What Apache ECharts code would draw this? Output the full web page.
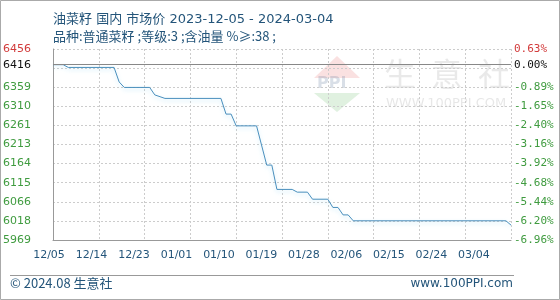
<!DOCTYPE html>
<html>
<head>
<meta charset="utf-8">
<script src="https://cdn.jsdelivr.net/npm/echarts@6/dist/echarts.min.js"></script>
<style>html,body{margin:0;padding:0;background:#fff;}#c{width:560px;height:300px;}</style>
</head>
<body>
<div id="c"></div>
<script>
// ---- data ----
const titleText = '油菜籽 国内 市场价 2023-12-05 - 2024-03-04';
const subText = '品种:普通菜籽 ;等级:3 ;含油量 %≥:38 ;';
const dates = ['2023-12-05','2023-12-07','2023-12-08','2023-12-17','2023-12-18','2023-12-19','2023-12-24','2023-12-25','2023-12-27','2024-01-07','2024-01-08','2024-01-09','2024-01-10','2024-01-14','2024-01-16','2024-01-17','2024-01-18','2024-01-21','2024-01-22','2024-01-24','2024-01-25','2024-01-28','2024-01-29','2024-01-30','2024-01-31','2024-02-01','2024-02-02','2024-03-03','2024-03-04'];
const prices = [6416,6416,6409,6409,6372,6358,6358,6339,6330,6330,6290,6290,6260,6260,6160,6160,6098,6098,6091,6091,6073,6073,6052,6052,6033,6033,6018,6018,6007];
const basePrice = 6416;
const priceMin = 5969, priceMax = 6456;
const leftTickLabels = ['5969','6018','6066','6115','6164','6213','6261','6310','6359','','6456'];
const rightTickLabels = ['-6.96%','-6.20%','-5.44%','-4.68%','-3.92%','-3.16%','-2.40%','-1.65%','-0.89%','','0.63%'];
const baseLabelLeft = '6416', baseLabelRight = '0.00%';
const xTickLabels = ['12/05','12/14','12/23','01/01','01/10','01/19','01/28','02/06','02/15','02/24','03/04'];
const totalDays = 90;        // span of the plotted data
const labelAxisDays = 97;    // the date labels are drawn on a slightly compressed scale in the reference

const t0 = Date.parse(dates[0]);
const seriesData = dates.map((d, i) => [(Date.parse(d) - t0) / 86400000, prices[i]]);

const green = '#3f9b3f', red = '#d23b3b', blue = '#24557a';
const chart = echarts.init(document.getElementById('c'), null, {renderer: 'canvas'});
chart.setOption({
  animation: false,
  title: [
    {text: titleText, left: 48, top: 8, textStyle: {fontSize: 13, fontWeight: 'normal', color: blue, fontFamily: '"DejaVu Sans", "Noto Sans CJK SC"'}},
    {text: subText, left: 48, top: 25, textStyle: {fontSize: 13, fontWeight: 'normal', color: blue, fontFamily: 'Noto Sans CJK SC'}}
  ],
  grid: [{left: 50, top: 49, width: 461, height: 191}],
  xAxis: [
    {type: 'value', gridIndex: 0, position: 'bottom', min: 0, max: totalDays, interval: 9,
     axisLabel: {show: false}, axisTick: {show: false},
     axisLine: {show: true, onZero: false, lineStyle: {color: '#999', width: 1}},
     splitLine: {show: true, lineStyle: {color: '#ccc', type: [2, 2]}}},
    {type: 'value', gridIndex: 0, position: 'bottom', min: 0, max: labelAxisDays, interval: 9,
     axisLine: {show: false, onZero: false}, axisTick: {show: false}, splitLine: {show: false},
     axisLabel: {margin: 10, fontSize: 11, color: blue, fontFamily: 'DejaVu Sans', align: 'center',
       padding: [0, 8, 0, 0], showMaxLabel: false,
       formatter: v => (v % 9 === 0 && v <= totalDays) ? xTickLabels[v / 9] : ''}}
  ],
  yAxis: [
    {type: 'value', gridIndex: 0, min: 0, max: 10, interval: 1, position: 'left',
     axisLine: {show: true, lineStyle: {color: '#999'}}, axisTick: {show: false},
     splitLine: {show: true, lineStyle: {color: '#ccc', type: [2, 2]}},
     axisLabel: {margin: 22, fontSize: 11, fontFamily: 'DejaVu Sans',
       formatter: v => leftTickLabels[Math.round(v)],
       color: v => Math.round(v) === 10 ? red : green}},
    {type: 'value', gridIndex: 0, min: 0, max: 10, interval: 1, position: 'right',
     axisLine: {show: false}, axisTick: {show: false}, splitLine: {show: false},
     axisLabel: {margin: 3, fontSize: 11, fontFamily: 'DejaVu Sans Mono',
       formatter: v => rightTickLabels[Math.round(v)],
       color: v => Math.round(v) === 10 ? red : green}},
    {type: 'value', gridIndex: 0, min: priceMin, max: priceMax, show: false}
  ],
  graphic: [
    {type: 'rect', shape: {x: 0.5, y: 0.5, width: 559, height: 299}, style: {fill: 'none', stroke: '#aaa', lineWidth: 1}, z: 100},
    {type: 'line', shape: {x1: 10, y1: 275.5, x2: 514, y2: 275.5}, style: {stroke: '#999', lineWidth: 1}},
    {type: 'text', left: 10, top: 277, style: {text: '© 2024.08 生意社', fontSize: 13, fill: blue, fontFamily: 'Noto Sans CJK SC'}},
    {type: 'text', right: 47, top: 278, style: {text: 'www.100PPI.com', fontSize: 12, fill: blue, fontFamily: 'DejaVu Sans'}},
    // watermark
    {type: 'group', z: -1, silent: true, children: [
      {type: 'polygon', shape: {points: [[314, 78], [337, 56], [360, 78]]}, style: {fill: 'rgba(230,120,120,0.22)'}},
      {type: 'text', x: 317, y: 76, style: {text: 'PPI', fontSize: 16, fontWeight: 'bold', fill: 'rgba(120,140,170,0.28)', fontFamily: 'DejaVu Sans'}},
      {type: 'polygon', shape: {points: [[314, 93], [360, 93], [337, 112]]}, style: {fill: 'rgba(130,200,130,0.25)'}},
      {type: 'text', x: 384, y: 58, style: {text: '生', fontSize: 32, fill: 'rgba(170,170,170,0.26)', fontFamily: 'Noto Sans CJK SC'}},
      {type: 'text', x: 431, y: 58, style: {text: '意', fontSize: 32, fill: 'rgba(170,170,170,0.26)', fontFamily: 'Noto Sans CJK SC'}},
      {type: 'text', x: 478, y: 58, style: {text: '社', fontSize: 32, fill: 'rgba(170,170,170,0.26)', fontFamily: 'Noto Sans CJK SC'}},
      {type: 'text', x: 386, y: 97, style: {text: 'WWW.100PPI.COM', fontSize: 13, fill: 'rgba(170,170,170,0.28)', fontFamily: 'DejaVu Sans'}}
    ]}
  ],
  series: [{
    type: 'line', xAxisIndex: 0, yAxisIndex: 2, data: seriesData, symbol: 'none',
    lineStyle: {color: '#4a8fbd', width: 1, shadowColor: 'rgba(150,215,245,0.6)', shadowBlur: 4, shadowOffsetY: 2},
    markLine: {
      silent: true, symbol: 'none', animation: false,
      lineStyle: {color: '#888', type: 'solid', width: 1},
      data: [
        {yAxis: basePrice, label: {position: 'start', distance: 22, formatter: baseLabelLeft, color: '#111', fontSize: 11, fontFamily: 'DejaVu Sans'}},
        {yAxis: basePrice, label: {position: 'end', distance: 3, formatter: baseLabelRight, color: '#111', fontSize: 11, fontFamily: 'DejaVu Sans Mono'}}
      ]
    }
  }]
});
</script>
</body>
</html>
